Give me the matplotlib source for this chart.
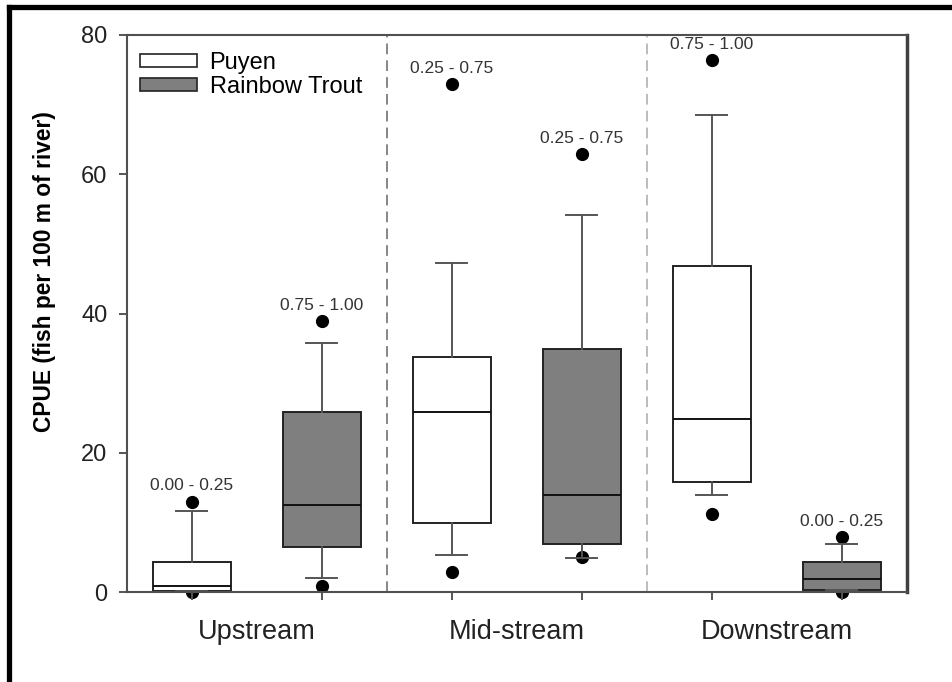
import numpy as np
import matplotlib
matplotlib.use('Agg')
import matplotlib.pyplot as plt
from matplotlib.patches import Patch
from matplotlib.lines import Line2D
from matplotlib.transforms import blended_transform_factory

plt.rcParams['font.family'] = ['Liberation Sans', 'DejaVu Sans']

# Box statistics (Puyen / Rainbow Trout per reach)
reaches = ['Upstream', 'Mid-stream', 'Downstream']
species = ['Puyen', 'Rainbow Trout']
q1 = [0.2, 6.5, 9.9, 6.9, 15.9, 0.4]
med = [0.9, 12.5, 25.9, 13.9, 24.9, 1.9]
q3 = [4.4, 25.9, 33.8, 34.9, 46.8, 4.4]
whislo = [0.2, 2.1, 5.3, 4.9, 13.9, 0.4]
whishi = [11.7, 35.8, 47.2, 54.1, 68.5, 6.9]
fliers = [[0.0, 13.0], [0.9, 38.9], [2.9, 72.9], [5.0, 62.9], [11.3, 76.4], [0.0, 7.9]]
labels = ['0.00 - 0.25', '0.75 - 1.00', '0.25 - 0.75', '0.25 - 0.75', '0.75 - 1.00', '0.00 - 0.25']

stats = []
for i in range(len(med)):
    stats.append(dict(q1=q1[i], med=med[i], q3=q3[i], whislo=whislo[i],
                      whishi=whishi[i], fliers=np.array(fliers[i])))

fig = plt.figure(figsize=(9.52, 6.82), dpi=100)
ax = fig.add_axes([0.1331, 0.1315, 0.8193, 0.8172])

pos = np.arange(1, len(med) + 1)
bp = ax.bxp(stats, positions=pos, widths=0.6, capwidths=0.24, patch_artist=True,
            manage_ticks=False,
            boxprops=dict(edgecolor='#222222', linewidth=1.4),
            medianprops=dict(color='#111111', linewidth=1.4),
            whiskerprops=dict(color='#555555', linewidth=1.4),
            capprops=dict(color='#555555', linewidth=1.4),
            flierprops=dict(marker='o', markerfacecolor='black', markeredgecolor='black',
                            markersize=8.5, linestyle='none'))
for i, box in enumerate(bp['boxes']):
    box.set_facecolor('white' if i % 2 == 0 else '#7f7f7f')
for fl in bp['fliers']:
    fl.set_clip_on(False)
    fl.set_zorder(1)

# labels above the top outlier
for i, lab in enumerate(labels):
    ax.text(pos[i], max(fliers[i]) + 2.3, lab, ha='center', va='center',
            fontsize=12.5, color='#333333')

# reach dividers
ax.axvline(2.5, color='#666666', linestyle=(0, (7, 4)), linewidth=1.1)
ax.axvline(4.5, color='#aaaaaa', linestyle=(0, (7, 4)), linewidth=1.1)

ax.set_xlim(0.5, 6.5)
ax.set_ylim(0, 80)
ax.set_yticks([0, 20, 40, 60, 80])
ax.set_xticks(pos)
ax.set_xticklabels([])
ax.tick_params(axis='y', direction='out', length=6, width=1.4, color='#555555',
               labelsize=17, pad=8, labelcolor='#222222')
ax.tick_params(axis='x', direction='out', length=6, width=1.4, color='#555555')

trans = blended_transform_factory(ax.transData, ax.transAxes)
for j, r in enumerate(reaches):
    ax.text(1.5 + 2 * j, -0.071, r, transform=trans, ha='center', va='center',
            fontsize=19.5, color='#222222')

ax.set_ylabel('CPUE (fish per 100 m of river)', fontsize=16.4, fontweight='bold', va='center')
ax.yaxis.set_label_coords(-0.106, 0.575)

for s in ['left', 'bottom', 'top']:
    ax.spines[s].set_color('#505050')
    ax.spines[s].set_linewidth(1.5)
ax.spines['right'].set_color('#404040')
ax.spines['right'].set_linewidth(2.5)

handles = [Patch(facecolor='white', edgecolor='#222222', linewidth=1.2),
           Patch(facecolor='#7f7f7f', edgecolor='#222222', linewidth=1.2)]
ax.legend(handles, species, loc='upper left', bbox_to_anchor=(0.017, 0.97),
          frameon=False, fontsize=17, borderaxespad=0, borderpad=0,
          handlelength=2.4, handleheight=0.5, handletextpad=0.55, labelspacing=0.1)

# outer frame (only top and left edges visible)
fig.add_artist(Line2D([9 / 952, 1], [1 - 7 / 682, 1 - 7 / 682], color='black', linewidth=3.8))
fig.add_artist(Line2D([9 / 952, 9 / 952], [0, 1 - 7 / 682], color='black', linewidth=3.8))

fig.savefig('out.png', dpi=100)
